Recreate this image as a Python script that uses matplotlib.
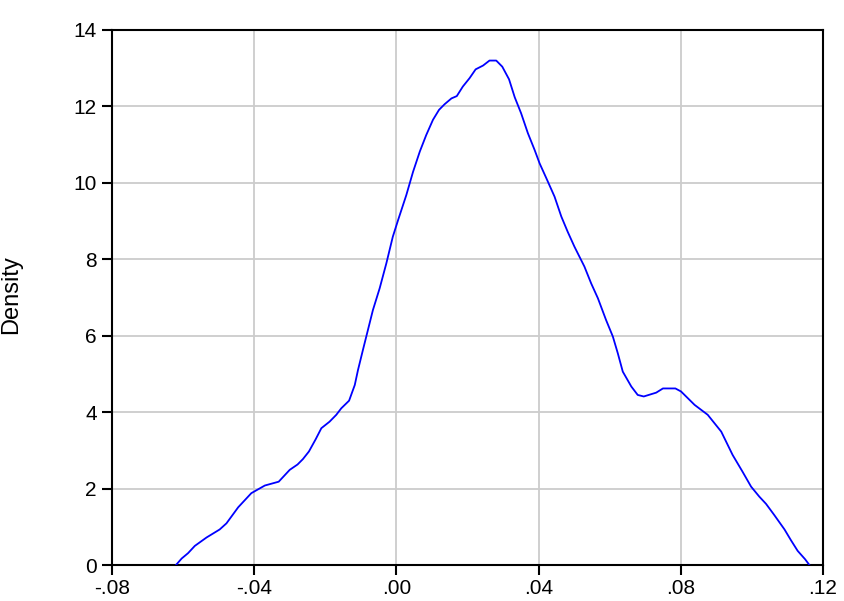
import matplotlib
matplotlib.use("Agg")
import matplotlib.pyplot as plt
import numpy as np

# kernel density estimate, read off at the knots
x_vals = [-0.0620, -0.0604, -0.0586, -0.0567, -0.0534, -0.0497, -0.0478, -0.0445,
          -0.0408, -0.0370, -0.0331, -0.0300, -0.0278, -0.0263, -0.0246, -0.0227,
          -0.0211, -0.0188, -0.0169, -0.0155, -0.0133, -0.0117, -0.0108, -0.0094,
          -0.0080, -0.0066, -0.0047, -0.0028, -0.0010, 0.0005, 0.0028, 0.0047,
          0.0066, 0.0084, 0.0103, 0.0120, 0.0136, 0.0155, 0.0170, 0.0187,
          0.0206, 0.0223, 0.0244, 0.0262, 0.0281, 0.0298, 0.0317, 0.0333,
          0.0351, 0.0370, 0.0389, 0.0403, 0.0422, 0.0445, 0.0464, 0.0482,
          0.0501, 0.0529, 0.0548, 0.0567, 0.0590, 0.0609, 0.0623, 0.0637,
          0.0661, 0.0679, 0.0696, 0.0731, 0.0750, 0.0785, 0.0801, 0.0839,
          0.0876, 0.0914, 0.0946, 0.0974, 0.0998, 0.1021, 0.1040, 0.1063,
          0.1092, 0.1110, 0.1129, 0.1150, 0.1162]
density = [0.00, 0.17, 0.31, 0.50, 0.72, 0.93, 1.09, 1.51,
           1.88, 2.08, 2.18, 2.49, 2.63, 2.77, 2.97, 3.29,
           3.58, 3.75, 3.93, 4.10, 4.30, 4.71, 5.10, 5.63,
           6.15, 6.67, 7.24, 7.90, 8.59, 9.03, 9.68, 10.29,
           10.82, 11.25, 11.65, 11.91, 12.06, 12.21, 12.27, 12.52,
           12.74, 12.97, 13.07, 13.20, 13.20, 13.04, 12.71, 12.24,
           11.82, 11.30, 10.86, 10.51, 10.12, 9.64, 9.12, 8.72,
           8.33, 7.81, 7.37, 6.98, 6.41, 5.98, 5.54, 5.06,
           4.67, 4.45, 4.41, 4.51, 4.62, 4.62, 4.54, 4.19,
           3.93, 3.49, 2.88, 2.44, 2.05, 1.79, 1.60, 1.31,
           0.93, 0.65, 0.37, 0.15, 0.00]

x_ticks = [-0.08, -0.04, 0.00, 0.04, 0.08, 0.12]
x_tick_labels = ["-.08", "-.04", ".00", ".04", ".08", ".12"]
y_ticks = [0, 2, 4, 6, 8, 10, 12, 14]

plt.rcParams["font.family"] = ["Liberation Sans", "DejaVu Sans"]

fig = plt.figure(figsize=(8.44, 6.01), dpi=100)
ax = fig.add_axes([0.1327, 0.0599, 0.8423, 0.8902])

ax.plot(x_vals, density, color="#0000ff", linewidth=1.3, zorder=3)

ax.set_xlim(-0.08, 0.12)
ax.set_ylim(0, 14)
ax.set_xticks(x_ticks)
ax.set_xticklabels(x_tick_labels)
ax.set_yticks(y_ticks)

ax.grid(True, color="#cccccc", linewidth=1.3)
ax.set_axisbelow(True)

for side in ["left", "right", "top", "bottom"]:
    ax.spines[side].set_linewidth(1.5)
    ax.spines[side].set_color("black")

ax.tick_params(axis="both", direction="out", length=7, width=1.5,
               labelsize=15, colors="black")
ax.tick_params(axis="x", pad=3)
ax.tick_params(axis="y", pad=4)

ax.set_ylabel("Density", fontsize=17)
ax.yaxis.set_label_coords(-0.127, 0.505)

fig.savefig("out.png", dpi=100)
